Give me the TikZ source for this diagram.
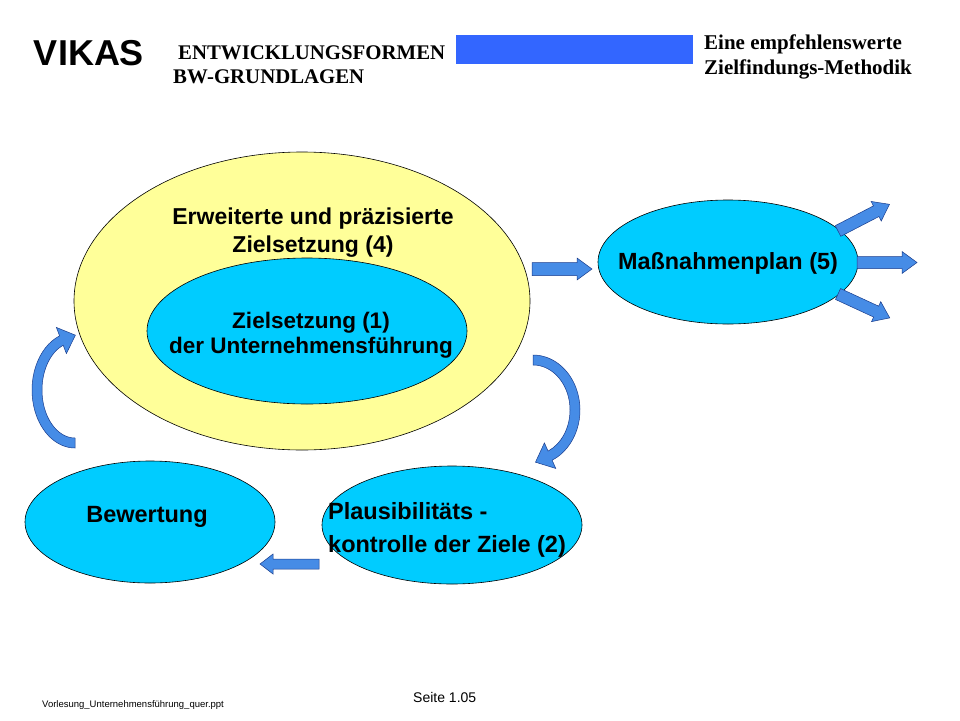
\documentclass[tikz,border=0pt]{standalone}
\usepackage{fontspec}
\setmainfont{Liberation Serif}
\setsansfont{Liberation Sans}
\definecolor{ylw}{RGB}{255,255,153}
\definecolor{cyn}{RGB}{0,204,255}
\definecolor{bar}{RGB}{51,102,255}
\definecolor{arrfill}{RGB}{70,140,230}
\definecolor{arrline}{RGB}{25,60,140}
\newcommand{\blockarrow}[7]{% x y angle length shaft headwidth headlength
  \begin{scope}[shift={(#1,#2)},rotate=#3]
    \filldraw[blockarr] (0,{#5/2}) -- ({#4-#7},{#5/2}) -- ({#4-#7},{#6/2}) -- (#4,0)
      -- ({#4-#7},{-#6/2}) -- ({#4-#7},{-#5/2}) -- (0,{-#5/2}) -- cycle;
  \end{scope}}
\tikzset{
  blob/.style={ellipse, draw=black, line width=0.6pt, inner sep=0pt},
  lbl/.style={font=\sffamily\bfseries, text=black, inner sep=0pt},
  blockarr/.style={fill=arrfill, draw=arrline, line width=0.5pt, line join=miter},
  hdr/.style={font=\rmfamily\bfseries, inner sep=0pt, align=left}
}
\usetikzlibrary{shapes.geometric}
\begin{document}
\begin{tikzpicture}[x=1pt,y=1pt]
\useasboundingbox (0,0) rectangle (960,-720);
% header
\node[lbl, font=\sffamily\bfseries\fontsize{36}{38}\selectfont] (vikas) at (89,-53) {VIKAS};
\node[hdr, anchor=west, font=\rmfamily\bfseries\fontsize{20.8}{24}\selectfont] (h1) at (178,-53) {ENTWICKLUNGSFORMEN};
\node[hdr, anchor=west, font=\rmfamily\bfseries\fontsize{20.8}{24}\selectfont] (h2) at (173,-77) {BW-GRUNDLAGEN};
\fill[bar] (456,-35) rectangle (693,-64);
\node[hdr, anchor=west, font=\rmfamily\bfseries\fontsize{21}{25}\selectfont] (h3) at (704,-44) {Eine empfehlenswerte};
\node[hdr, anchor=west, font=\rmfamily\bfseries\fontsize{21}{25}\selectfont] (h4) at (704,-69) {Zielfindungs-Methodik};
% ellipses
\node[blob, fill=ylw, minimum width=456, minimum height=298] (outer) at (302,-301) {};
\node[blob, fill=cyn, minimum width=320, minimum height=146] (inner) at (307,-331) {};
\node[blob, fill=cyn, minimum width=260, minimum height=124] (mass) at (728,-262) {};
\node[blob, fill=cyn, minimum width=250, minimum height=122] (bew) at (150,-522) {};
\node[blob, fill=cyn, minimum width=260, minimum height=118] (plaus) at (452,-525) {};
% labels
\node[lbl, align=center, font=\sffamily\bfseries\fontsize{23}{28}\selectfont] (t4) at (313,-233) {Erweiterte und präzisierte\\Zielsetzung (4)};
\node[lbl, align=center, font=\sffamily\bfseries\fontsize{22.5}{25}\selectfont] (t1) at (311,-335) {Zielsetzung (1)\\der Unternehmensführung};
\node[lbl, font=\sffamily\bfseries\fontsize{23.4}{26}\selectfont] (t5) at (728,-263) {Maßnahmenplan (5)};
\node[lbl, font=\sffamily\bfseries\fontsize{23.5}{26}\selectfont] (tb) at (147,-517) {Bewertung};
\node[lbl, align=left, anchor=west, font=\sffamily\bfseries\fontsize{23.5}{33}\selectfont] (t2) at (328,-530) {Plausibilitäts -\\kontrolle der Ziele (2)};
% straight block arrows
\blockarrow{532}{-269}{0}{60}{13}{22}{15}
\blockarrow{838}{-231}{27.4}{58}{12}{22}{15}
\blockarrow{857}{-262.5}{0}{60}{12}{22}{15}
\blockarrow{838}{-294}{-24.8}{57}{12}{22}{15}
\blockarrow{319}{-564}{180}{59}{10}{20}{13}
% curved block arrows
\filldraw[blockarr] (75,-438) arc[start angle=270, end angle=111, x radius=33, y radius=48]
  -- (66.39,-353.6) -- (75.39,-335.15) -- (56.37,-327.44) -- (59.59,-335.85)
  arc[start angle=111, end angle=270, x radius=43, y radius=58] -- cycle;
\filldraw[blockarr] (533,-365) arc[start angle=90, end angle=-66, x radius=37, y radius=45]
  -- (544.40,-442.89) -- (535.47,-462.18) -- (555.76,-468.46) -- (552.11,-460.24)
  arc[start angle=-66, end angle=90, x radius=47, y radius=55] -- cycle;
% footer
\node[inner sep=0pt, anchor=west, font=\sffamily\fontsize{9.5}{11}\selectfont] (f1) at (42,-705) {Vorlesung\_Unternehmensführung\_quer.ppt};
\node[inner sep=0pt, anchor=west, font=\sffamily\fontsize{14}{16}\selectfont] (f2) at (413,-697) {Seite 1.05};
\end{tikzpicture}
\end{document}
